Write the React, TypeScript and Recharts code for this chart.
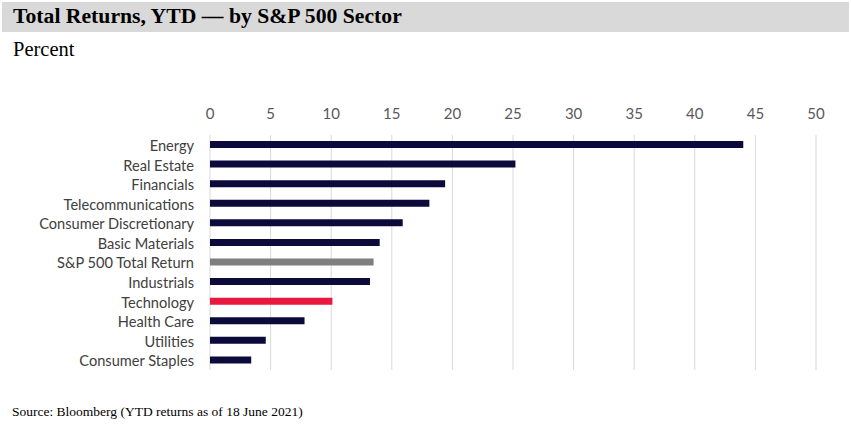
import React from 'react'
import { BarChart, Bar, XAxis, YAxis, CartesianGrid, Cell } from 'recharts'

const sectors = [
  'Energy',
  'Real Estate',
  'Financials',
  'Telecommunications',
  'Consumer Discretionary',
  'Basic Materials',
  'S&P 500 Total Return',
  'Industrials',
  'Technology',
  'Health Care',
  'Utilities',
  'Consumer Staples',
]
const returnsYtd = [44.0, 25.2, 19.4, 18.1, 15.9, 14.0, 13.5, 13.2, 10.1, 7.8, 4.6, 3.4]
const xTicks = [0, 5, 10, 15, 20, 25, 30, 35, 40, 45, 50]

const NAVY = '#0b0a3a'
const GREY = '#7f7f7f'
const RED = '#e8183f'

function barColor(name: string) {
  if (name === 'S&P 500 Total Return') return GREY
  if (name === 'Technology') return RED
  return NAVY
}

const data = sectors.map((name, i) => ({ name, value: returnsYtd[i] }))

const serif = '"Liberation Serif", serif'
const sans = 'Lato, "Noto Sans", sans-serif'

export default function App() {
  return (
    <div style={{ position: 'absolute', left: 0, top: 0, width: 851, height: 427, background: '#fff' }}>
      <div
        style={{
          position: 'absolute',
          left: 2,
          top: 2,
          width: 847,
          height: 30,
          background: '#d9d9d9',
        }}
      />
      <div
        style={{
          position: 'absolute',
          left: 13,
          top: 4,
          fontFamily: serif,
          fontWeight: 'bold',
          fontSize: 21.7,
          color: '#000',
          whiteSpace: 'nowrap',
        }}
      >
        Total Returns, YTD — by S&amp;P 500 Sector
      </div>
      <div
        style={{ position: 'absolute', left: 13, top: 38, fontFamily: serif, fontSize: 20.5, color: '#000' }}
      >
        Percent
      </div>
      <div style={{ position: 'absolute', left: 0, top: 0 }}>
        <BarChart
          width={851}
          height={427}
          data={data}
          layout="vertical"
          margin={{ top: 100, right: 35, bottom: 57, left: 0 }}
          barCategoryGap={0}
        >
          <CartesianGrid horizontal={false} stroke="#d9d9d9" />
          <XAxis
            type="number"
            orientation="top"
            domain={[0, 50]}
            ticks={xTicks}
            height={35}
            axisLine={false}
            tickLine={false}
            tickSize={0}
            tickMargin={16}
            tick={{ fill: '#595959', fontSize: 15, fontFamily: sans }}
            interval={0}
          />
          <YAxis
            type="category"
            dataKey="name"
            width={210}
            axisLine={false}
            tickLine={false}
            tickSize={0}
            tickMargin={16}
            tick={{ fill: '#404040', fontSize: 14.6, fontFamily: sans, dy: 1 }}
            interval={0}
          />
          <Bar dataKey="value" barSize={7} isAnimationActive={false}>
            {data.map((d) => (
              <Cell key={d.name} fill={barColor(d.name)} />
            ))}
          </Bar>
        </BarChart>
      </div>
      <div
        style={{ position: 'absolute', left: 12, top: 404, fontFamily: serif, fontSize: 13.5, color: '#000' }}
      >
        Source: Bloomberg (YTD returns as of 18 June 2021)
      </div>
    </div>
  )
}
